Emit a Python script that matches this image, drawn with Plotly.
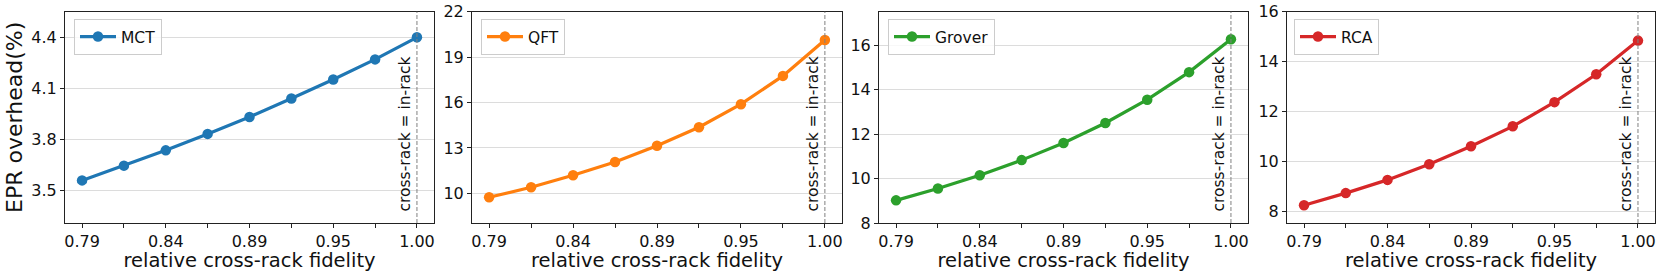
import plotly.graph_objects as go
from plotly.subplots import make_subplots

# ---- data ----
fidelity = [0.79, 0.81625, 0.8425, 0.86875, 0.895, 0.92125, 0.9475, 0.97375, 1.0]
fidelity_ticktext = ["0.79", "", "0.84", "", "0.89", "", "0.95", "", "1.00"]

names = ["MCT", "QFT", "Grover", "RCA"]
colors = ["#1f77b4", "#ff7f0e", "#2ca02c", "#d62728"]

mct = [3.557, 3.644, 3.734, 3.831, 3.931, 4.040, 4.152, 4.270, 4.400]
qft = [9.74, 10.40, 11.19, 12.07, 13.14, 14.37, 15.89, 17.76, 20.13]
grover = [9.02, 9.55, 10.15, 10.83, 11.60, 12.50, 13.55, 14.79, 16.27]
rca = [8.23, 8.72, 9.25, 9.88, 10.60, 11.40, 12.37, 13.49, 14.84]
series = [mct, qft, grover, rca]

yticks = [
    [3.5, 3.8, 4.1, 4.4],
    [10, 13, 16, 19, 22],
    [8, 10, 12, 14, 16],
    [8, 10, 12, 14, 16],
]
yticktext = [
    ["3.5", "3.8", "4.1", "4.4"],
    ["10", "13", "16", "19", "22"],
    ["8", "10", "12", "14", "16"],
    ["8", "10", "12", "14", "16"],
]
yranges = [[3.306, 4.551], [8.04, 22.0], [8.0, 17.51], [7.52, 16.0]]
xrange_ = [0.7793, 1.0107]

x_label = "relative cross-rack fidelity"
y_label = "EPR overhead(%)"
ref_label = "cross-rack = in-rack"

# ---- layout geometry ----
W, H = 1661, 272
x_domains = [(65, 434), (472, 842), (879, 1248), (1287, 1655)]
y_top, y_bot = 11.7, 223
legend_x = [74, 481, 888, 1294]

FONT = "DejaVu Sans"

fig = make_subplots(rows=1, cols=4)

for i in range(4):
    leg = "legend" if i == 0 else f"legend{i+1}"
    fig.add_trace(
        go.Scatter(
            x=fidelity, y=series[i], mode="lines+markers", name=names[i],
            line=dict(color=colors[i], width=3.2),
            marker=dict(color=colors[i], size=10.5),
            legend=leg,
        ),
        row=1, col=i + 1,
    )
    xa = "xaxis" if i == 0 else f"xaxis{i+1}"
    ya = "yaxis" if i == 0 else f"yaxis{i+1}"
    d0, d1 = x_domains[i]
    fig.layout[xa].update(
        domain=[d0 / W, d1 / W], range=xrange_,
        tickvals=fidelity, ticktext=fidelity_ticktext,
        ticks="outside", ticklen=4, tickcolor="#222", tickwidth=1,
        showgrid=False, zeroline=False,
        showline=True, linecolor="#222", linewidth=1, mirror=True,
        tickfont=dict(family=FONT, size=16, color="#111"),
        title=dict(text=x_label, font=dict(family=FONT, size=19.5, color="#111"), standoff=0),
        automargin=False,
    )
    fig.layout[ya].update(
        domain=[(H - y_bot) / H, (H - y_top) / H], range=yranges[i],
        tickvals=yticks[i], ticktext=yticktext[i],
        ticks="outside", ticklen=4, tickcolor="#222", tickwidth=1,
        showgrid=True, gridcolor="#dcdcdc", gridwidth=1, zeroline=False,
        showline=True, linecolor="#222", linewidth=1, mirror=True,
        tickfont=dict(family=FONT, size=16, color="#111"),
        automargin=False,
    )
    if i == 0:
        fig.layout[ya].update(
            title=dict(text=y_label, font=dict(family=FONT, size=22, color="#111"), standoff=2)
        )
    xref = "x" if i == 0 else f"x{i+1}"
    yref = "y" if i == 0 else f"y{i+1}"
    fig.add_shape(
        type="line", xref=xref, yref=f"{yref} domain",
        x0=fidelity[-1], x1=fidelity[-1], y0=0, y1=1,
        line=dict(color="#808080", width=1, dash="4px,2px"),
    )
    fig.add_annotation(
        xref=xref, yref=f"{yref} domain", x=fidelity[-1], y=0.047,
        xanchor="right", yanchor="bottom", xshift=-1,
        text=ref_label, textangle=-90, showarrow=False,
        font=dict(family=FONT, size=15.5, color="#111"),
    )
    fig.layout[leg] = dict(
        x=legend_x[i] / W, y=(H - 19) / H, xanchor="left", yanchor="top",
        bgcolor="rgba(255,255,255,0.8)", bordercolor="#cccccc", borderwidth=1,
        font=dict(family=FONT, size=15.5, color="#111"),
        itemwidth=36,
    )

fig.update_layout(
    width=W, height=H,
    margin=dict(l=0, r=0, t=0, b=0),
    paper_bgcolor="white", plot_bgcolor="white",
    showlegend=True,
)

fig.write_html(
    "out.html",
    config={"displayModeBar": False},
    post_script="document.body.style.margin='0';",
)
